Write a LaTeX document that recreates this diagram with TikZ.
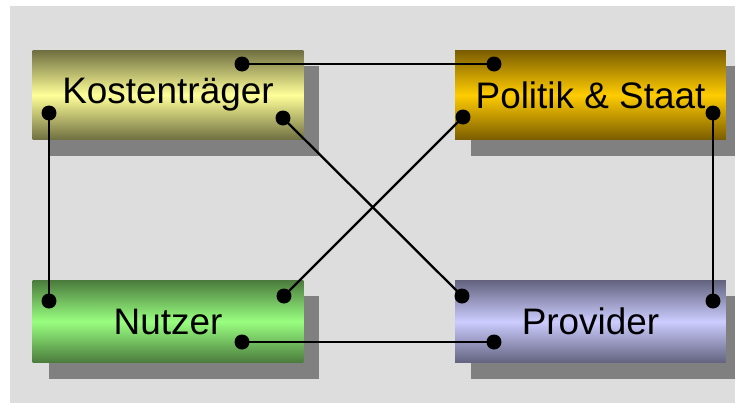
\documentclass[tikz,border=0pt]{standalone}
\usepackage{fontspec}
\setmainfont{Liberation Sans}
\usetikzlibrary{shadows}

\definecolor{bggray}{HTML}{DDDDDD}
\definecolor{shadowgray}{HTML}{808080}
\definecolor{kostlight}{HTML}{FFFF99}
\definecolor{kostdark}{HTML}{6E6E40}
\definecolor{politlight}{HTML}{FFCC00}
\definecolor{politdark}{HTML}{7A5C00}
\definecolor{nutzlight}{HTML}{99FF80}
\definecolor{nutzdark}{HTML}{4A7A3C}
\definecolor{provlight}{HTML}{CCCCFF}
\definecolor{provdark}{HTML}{62627E}

\tikzset{
  partybox/.style={minimum width=5.42cm, inner sep=0pt,
    font=\fontsize{21}{25}\selectfont,
    drop shadow={shadow xshift=0.32cm, shadow yshift=-0.32cm, fill=shadowgray, opacity=1}},
  pin/.style={circle, fill=black, inner sep=0pt, minimum size=0.3cm},
  link/.style={line width=1.3pt}
}

\begin{document}
\begin{tikzpicture}[x=0.02cm, y=-0.02cm]

\useasboundingbox (0,0) rectangle (735,403);
\fill[bggray] (10,6) rectangle (735,403);

\node[partybox, minimum height=1.8cm, top color=kostdark, bottom color=kostdark, middle color=kostlight] (kost) at (168,95) {Kostenträger};
\node[partybox, minimum height=1.8cm, top color=politdark, bottom color=politdark, middle color=politlight] (polit) at (590.5,95) {Politik \& Staat};
\node[partybox, minimum height=1.66cm, top color=nutzdark, bottom color=nutzdark, middle color=nutzlight] (nutz) at (168,321.5) {Nutzer};
\node[partybox, minimum height=1.66cm, top color=provdark, bottom color=provdark, middle color=provlight] (prov) at (590.5,321.5) {Provider};

\node[pin] (kostT) at (242,64) {};
\node[pin] (kostL) at (49,113) {};
\node[pin] (kostR) at (283,118) {};
\node[pin] (politT) at (494,64) {};
\node[pin] (politL) at (463,117) {};
\node[pin] (politR) at (713,113) {};
\node[pin] (nutzL) at (49,301) {};
\node[pin] (nutzR) at (284,296) {};
\node[pin] (nutzB) at (242,342) {};
\node[pin] (provL) at (462,296) {};
\node[pin] (provR) at (713,301) {};
\node[pin] (provB) at (494,342) {};

\draw[link] (kostT.center) -- (politT.center);
\draw[link] (kostL.center) -- (nutzL.center);
\draw[link] (kostR.center) -- (provL.center);
\draw[link] (politL.center) -- (nutzR.center);
\draw[link] (politR.center) -- (provR.center);
\draw[link] (nutzB.center) -- (provB.center);

\end{tikzpicture}
\end{document}
